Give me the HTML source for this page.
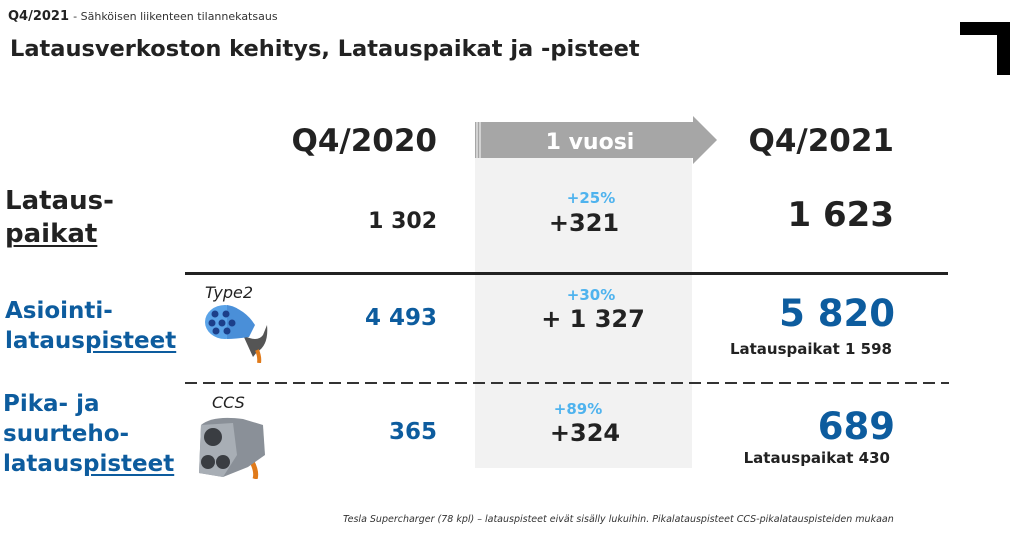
<!DOCTYPE html>
<html><head><meta charset="utf-8"><style>
body{margin:0;width:1024px;height:534px;background:#fff;position:relative;overflow:hidden;font-family:"DejaVu Sans","Liberation Sans",sans-serif;}
.a{position:absolute;white-space:nowrap;line-height:1;}
.b{font-weight:bold;}
.r{text-align:right;}
.c{text-align:center;}
.blue{color:#0d5c9e;}
.lb{color:#4fb3ee;}
.k{color:#222;}
u{text-decoration-thickness:2px;text-underline-offset:3px;}
</style></head><body>
<div class="a" style="left:8px;top:10px;font-size:13px;"><b style="color:#222">Q4/2021</b> <span style="font-size:11px;color:#333">- Sähköisen liikenteen tilannekatsaus</span></div>
<div class="a b k" style="left:10px;top:38px;font-size:22.5px;">Latausverkoston kehitys, Latauspaikat ja -pisteet</div>
<div class="a" style="left:960px;top:22px;width:50px;height:13px;background:#000"></div>
<div class="a" style="left:997px;top:22px;width:13px;height:53px;background:#000"></div>

<div class="a" style="left:475px;top:158px;width:217px;height:310px;background:#f2f2f2"></div>
<svg class="a" style="left:470px;top:114px" width="252" height="52">
<polygon points="5,8 223,8 223,2 247,26 223,50 223,44 5,44" fill="#a6a6a6"/>
<line x1="7" y1="8" x2="7" y2="44" stroke="#fff" stroke-width="1"/>
<line x1="10" y1="8" x2="10" y2="44" stroke="#fff" stroke-width="1"/>
<text x="120" y="35" text-anchor="middle" font-family="DejaVu Sans" font-weight="bold" font-size="22" fill="#fff">1 vuosi</text>
</svg>

<div class="a b k r" style="left:237px;width:200px;top:126px;font-size:31px;">Q4/2020</div>
<div class="a b k r" style="left:694px;width:200px;top:126px;font-size:31px;">Q4/2021</div>

<div class="a b k" style="left:5px;top:185px;font-size:26px;line-height:33px;">Lataus-<br><u>paikat</u></div>
<div class="a b k r" style="left:237px;width:200px;top:211px;font-size:22px;">1 302</div>
<div class="a b lb c" style="left:491px;width:200px;top:191px;font-size:15px;">+25%</div>
<div class="a b k c" style="left:484px;width:200px;top:211px;font-size:24px;">+321</div>
<div class="a b k r" style="left:694px;width:200px;top:198px;font-size:34px;">1 623</div>

<div class="a" style="left:185px;top:272px;width:763px;height:3px;background:#222"></div>

<div class="a b blue" style="left:5px;top:296px;font-size:23px;line-height:30px;">Asiointi-<br>lataus<u>pisteet</u></div>
<div class="a" style="left:205px;top:285px;font-size:16px;font-style:italic;color:#222">Type2</div>
<svg class="a" style="left:205px;top:305px" width="65" height="58">
<path d="M38,30 Q52,38 58,30 L62,20 Q64,40 52,47 L48,52 Z" fill="#555"/>
<path d="M52,45 Q55,52 54,58" stroke="#e07a1a" stroke-width="4" fill="none"/>
<ellipse cx="20" cy="17" rx="20" ry="17" fill="#5aa3e8"/>
<path d="M22,0 Q40,4 50,20 L44,32 Q30,34 22,34 Z" fill="#4a8fd8"/>
<g fill="#1c3f8a"><circle cx="10" cy="9" r="3.5"/><circle cx="21" cy="9" r="3.5"/><circle cx="7" cy="18" r="3.5"/><circle cx="17" cy="18" r="3.5"/><circle cx="27" cy="18" r="3.5"/><circle cx="11" cy="26" r="3.5"/><circle cx="22" cy="26" r="3.5"/></g>
</svg>
<div class="a b blue r" style="left:237px;width:200px;top:307px;font-size:23px;">4 493</div>
<div class="a b lb c" style="left:491px;width:200px;top:288px;font-size:15px;">+30%</div>
<div class="a b k c" style="left:493px;width:200px;top:307px;font-size:24px;">+ 1 327</div>
<div class="a b blue r" style="left:695px;width:200px;top:295px;font-size:37px;">5 820</div>
<div class="a b k r" style="left:692px;width:200px;top:342px;font-size:15px;">Latauspaikat 1 598</div>

<svg class="a" style="left:185px;top:381px" width="764" height="4"><line x1="0" y1="2" x2="764" y2="2" stroke="#333" stroke-width="2" stroke-dasharray="12,6"/></svg>

<div class="a b blue" style="left:3px;top:389px;font-size:23px;line-height:30px;">Pika- ja<br>suurteho-<br>lataus<u>pisteet</u></div>
<div class="a" style="left:212px;top:395px;font-size:16px;font-style:italic;color:#222">CCS</div>
<svg class="a" style="left:193px;top:415px" width="76" height="64">
<path d="M55,40 Q65,55 62,64" stroke="#e07a1a" stroke-width="5" fill="none"/>
<path d="M8,10 Q20,0 50,4 L70,10 L72,40 L55,52 L30,62 L6,58 Z" fill="#8a9098"/>
<path d="M8,10 L40,8 L44,40 L30,62 L6,58 Z" fill="#a8aeb5"/>
<circle cx="20" cy="22" r="9" fill="#3a3d42"/>
<circle cx="15" cy="47" r="7" fill="#3a3d42"/><circle cx="30" cy="47" r="7" fill="#3a3d42"/>
</svg>
<div class="a b blue r" style="left:237px;width:200px;top:421px;font-size:23px;">365</div>
<div class="a b lb c" style="left:478px;width:200px;top:402px;font-size:15px;">+89%</div>
<div class="a b k c" style="left:485px;width:200px;top:421px;font-size:24px;">+324</div>
<div class="a b blue r" style="left:695px;width:200px;top:408px;font-size:37px;">689</div>
<div class="a b k r" style="left:690px;width:200px;top:451px;font-size:15px;">Latauspaikat 430</div>

<div class="a" style="left:343px;top:515px;font-size:9.5px;font-style:italic;color:#333">Tesla Supercharger (78 kpl) – latauspisteet eivät sisälly lukuihin. Pikalatauspisteet CCS-pikalatauspisteiden mukaan</div>
</body></html>
